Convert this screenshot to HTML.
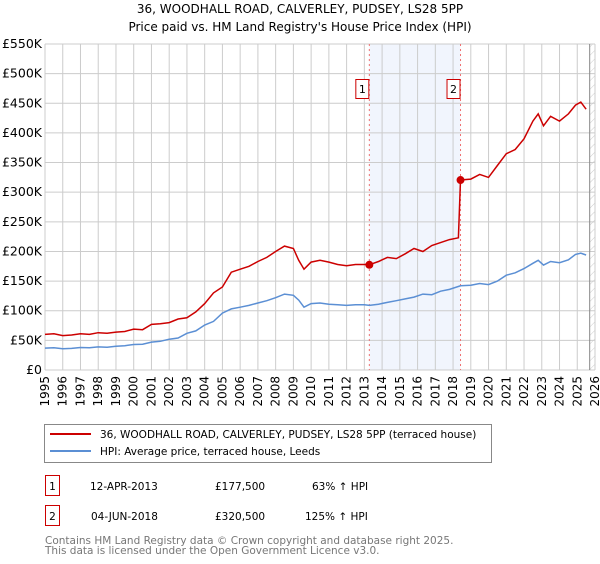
<!DOCTYPE html>
<html><head><meta charset="utf-8"><style>
body{margin:0;background:#fff;width:600px;height:560px;overflow:hidden;font-family:"DejaVu Sans","Liberation Sans",sans-serif}
svg text{font-family:"DejaVu Sans","Liberation Sans",sans-serif}
</style></head><body>
<svg id="c" width="600" height="560">
<defs><pattern id="hatch" width="6" height="6" patternUnits="userSpaceOnUse" patternTransform="rotate(45)"><line x1="0" y1="0" x2="0" y2="6" stroke="#ccc" stroke-width="1"/></pattern></defs>
<text x="300" y="13" text-anchor="middle" font-size="12">36, WOODHALL ROAD, CALVERLEY, PUDSEY, LS28 5PP</text>
<text x="300" y="31" text-anchor="middle" font-size="12">Price paid vs. HM Land Registry's House Price Index (HPI)</text>
<g id="grid"></g><g id="marks"></g><g id="axes"></g>
<rect x="44.5" y="424.5" width="447" height="38" fill="#fff" stroke="#888"/>
<line x1="50" y1="434" x2="91" y2="434" stroke="#cc0000" stroke-width="2"/>
<text x="100" y="438" font-size="10.5">36, WOODHALL ROAD, CALVERLEY, PUDSEY, LS28 5PP (terraced house)</text>
<line x1="50" y1="451" x2="91" y2="451" stroke="#5b8fd4" stroke-width="2"/>
<text x="100" y="455" font-size="10.5">HPI: Average price, terraced house, Leeds</text>
<rect x="45.5" y="475.5" width="14" height="20" fill="#fff" stroke="#cc0000"/>
<text x="52.5" y="490" font-size="10.5" text-anchor="middle">1</text>
<text x="90" y="490" font-size="10.5">12-APR-2013</text>
<text x="215" y="490" font-size="10.5">£177,500</text>
<text x="312" y="490" font-size="10.5">63% ↑ HPI</text>
<rect x="45.5" y="505.5" width="14" height="20" fill="#fff" stroke="#cc0000"/>
<text x="52.5" y="520" font-size="10.5" text-anchor="middle">2</text>
<text x="91" y="520" font-size="10.5">04-JUN-2018</text>
<text x="215" y="520" font-size="10.5">£320,500</text>
<text x="305" y="520" font-size="10.5">125% ↑ HPI</text>
<text x="45" y="544" font-size="10.5" fill="#777">Contains HM Land Registry data © Crown copyright and database right 2025.</text>
<text x="45" y="554" font-size="10.5" fill="#777">This data is licensed under the Open Government Licence v3.0.</text>
</svg>
<script>
const yTicks=[0,50000,100000,150000,200000,250000,300000,350000,400000,450000,500000,550000];
const yTickLabels=["£0","£50K","£100K","£150K","£200K","£250K","£300K","£350K","£400K","£450K","£500K","£550K"];
const xTicks=[1995,1996,1997,1998,1999,2000,2001,2002,2003,2004,2005,2006,2007,2008,2009,2010,2011,2012,2013,2014,2015,2016,2017,2018,2019,2020,2021,2022,2023,2024,2025,2026];
const hpiYears=[1995,1995.5,1996,1996.5,1997,1997.5,1998,1998.5,1999,1999.5,2000,2000.5,2001,2001.5,2002,2002.5,2003,2003.5,2004,2004.5,2005,2005.5,2006,2006.5,2007,2007.5,2008,2008.5,2009,2009.3,2009.6,2010,2010.5,2011,2011.5,2012,2012.5,2013,2013.28,2013.8,2014.3,2014.8,2015.3,2015.8,2016.3,2016.8,2017.3,2017.8,2018.42,2019,2019.5,2020,2020.5,2021,2021.5,2022,2022.5,2022.8,2023.1,2023.5,2024,2024.5,2024.9,2025.2,2025.5];
const hpiValues=[37000,37500,36000,36500,38000,37500,39000,38500,40000,41000,43000,43500,47000,48500,52000,54000,62000,66000,76000,82000,96000,103000,106000,109000,113000,117000,122000,128000,126000,118000,106000,112000,113000,111000,110000,109000,110000,110000,109000,111000,114000,117000,120000,123000,128000,127000,133000,136000,142000,143000,146000,144000,150000,160000,164000,171000,180000,185000,177000,183000,181000,186000,195000,197000,194000];
const saleYears=[1995,1995.5,1996,1996.5,1997,1997.5,1998,1998.5,1999,1999.5,2000,2000.5,2001,2001.5,2002,2002.5,2003,2003.5,2004,2004.5,2005,2005.5,2006,2006.5,2007,2007.5,2008,2008.5,2009,2009.3,2009.6,2010,2010.5,2011,2011.5,2012,2012.5,2013,2013.28,2013.8,2014.3,2014.8,2015.3,2015.8,2016.3,2016.8,2017.3,2017.8,2018.3,2018.42,2019,2019.5,2020,2020.5,2021,2021.5,2022,2022.5,2022.8,2023.1,2023.5,2024,2024.5,2024.9,2025.2,2025.5];
const saleValues=[60000,61000,58000,59000,61000,60000,63000,62000,64000,65000,69000,68000,77000,78000,80000,86000,88000,98000,112000,130000,140000,165000,170000,175000,183000,190000,200000,209000,205000,185000,170000,182000,185000,182000,178000,176000,178000,178000,177500,183000,190000,188000,196000,205000,200000,210000,215000,220000,223000,320500,322000,330000,325000,345000,365000,372000,390000,420000,432000,412000,428000,420000,432000,447000,452000,440000];
const saleDates=[2013.28,2018.42];
const salePrices=[177500,320500];
const L=45,R=595,T=44,B=370,X0=1995,X1=2026,YMAX=550000;
const sx=v=>L+(v-X0)/(X1-X0)*(R-L);
const sy=v=>B-v/YMAX*(B-T);
const NS="http://www.w3.org/2000/svg";
function mk(tag,attrs,parent,txt){const e=document.createElementNS(NS,tag);for(const k in attrs)e.setAttribute(k,attrs[k]);if(txt!==undefined)e.textContent=txt;parent.appendChild(e);return e;}
const grid=document.getElementById('grid'),marks=document.getElementById('marks'),axes=document.getElementById('axes');
let e=mk('rect',{x:sx(saleDates[0]),y:T,width:sx(saleDates[1])-sx(saleDates[0]),height:B-T,fill:'#eef3fc',opacity:0.8},grid);


const END=2025.7;
e=mk('rect',{x:sx(END),y:T,width:R-sx(END),height:B-T,fill:'url(#hatch)'},grid);


yTicks.forEach((v,i)=>{
 let g=mk('line',{x1:L,x2:R,y1:sy(v),y2:sy(v),stroke:'#ccc'},grid);
 
 
 let t=mk('text',{x:L-3,y:sy(v)+4,'text-anchor':'end','font-size':12.5},axes,yTickLabels[i]);
 
 
});
xTicks.forEach(v=>{
 let g=mk('line',{x1:sx(v),x2:sx(v),y1:T,y2:B,stroke:'#ccc'},grid);
 
 
 let t=mk('text',{x:0,y:0,'text-anchor':'end','font-size':12,transform:`translate(${sx(v)+4},${B+6}) rotate(-90)`},axes,String(v));
 
 
});
e=mk('line',{x1:sx(END),x2:sx(END),y1:T,y2:B,stroke:'#888'},grid);


saleDates.forEach((d,i)=>{
 let l=mk('line',{x1:sx(d),x2:sx(d),y1:T,y2:B,stroke:'#f07070','stroke-dasharray':'2,3'},grid);
 
 
 let b=mk('rect',{x:sx(d)-13.5,y:79.5,width:13,height:19,fill:'#fff',stroke:'#cc0000'},marks);
 
 
 let t=mk('text',{x:sx(d)-7,y:93,'text-anchor':'middle','font-size':11},marks,String(i+1));
 
 
});
const path=(xs,ys)=>xs.map((x,i)=>(i?'L':'M')+sx(x).toFixed(1)+','+sy(ys[i]).toFixed(1)).join('');
e=mk('path',{d:path(hpiYears,hpiValues),fill:'none',stroke:'#5b8fd4','stroke-width':1.5},marks);


e=mk('path',{d:path(saleYears,saleValues),fill:'none',stroke:'#cc0000','stroke-width':1.5},marks);


saleDates.forEach((d,i)=>{
 let c=mk('circle',{cx:sx(d),cy:sy(salePrices[i]),r:4,fill:'#cc0000'},marks);
 
 
});
</script>
</body></html>
